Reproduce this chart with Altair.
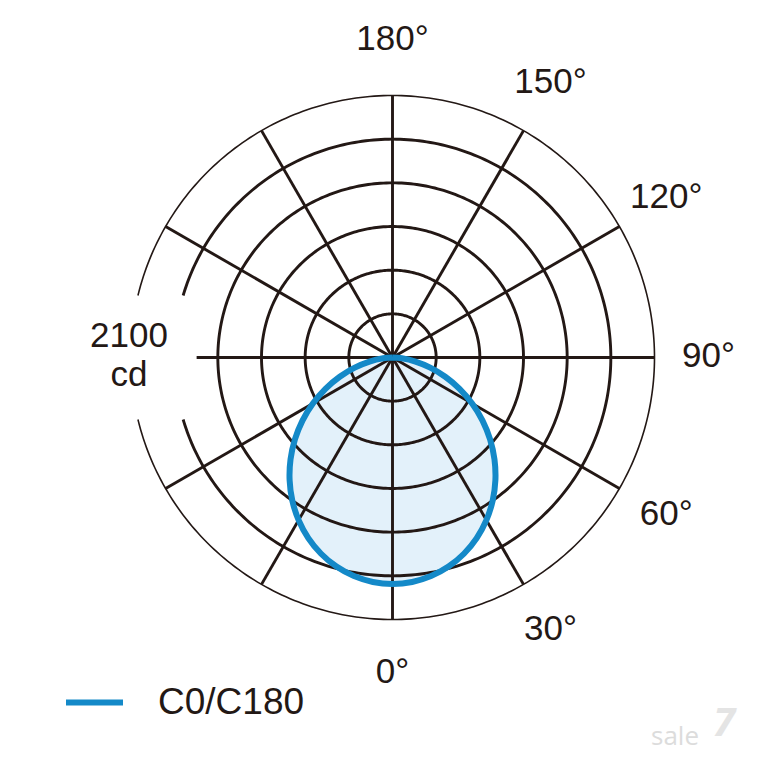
import altair as alt
import pandas as pd
import numpy as np

# ---- data -----------------------------------------------------------------
# luminous intensity (cd) of the C0/C180 plane, at 5 degree steps from nadir
gamma = [0, 5, 10, 15, 20, 25, 30, 35, 40, 45, 50, 55, 60, 65, 70, 75, 80, 85, 90]
intensity = [1815, 1806, 1779, 1735, 1674, 1597, 1505, 1400, 1283, 1156,
             1021, 881, 737, 593, 450, 313, 187, 76, 0]
series_name = "C0/C180"

ring_values = [350, 700, 1050, 1400, 1750, 2100]
ring_widths = [2.9, 2.9, 2.9, 2.9, 2.9, 1.6]
ring_has_gap = [False, False, False, False, True, True]

ray_angles = [0, 30, 60, 90, 120, 150, 180, 210, 240, 270, 300, 330]
ray_lengths = [2100, 2100, 2100, 2100, 2100, 2100, 2100, 2100, 2100, 1570, 2100, 2100]

label_angles = [0, 30, 60, 90, 120, 150, 180]
label_texts = ["0°", "30°", "60°", "90°", "120°", "150°", "180°"]
label_radius = 2533
scale_label = "2100\ncd"
scale_label_x = -2112
scale_label_y = 172
gap_half = 497  # cd, half height of the blank band behind the scale label

# ---- style / frame --------------------------------------------------------
DARK = "#231815"
BLUE = "#1489c8"
FILL = "#e3f1fa"
FONT = "Liberation Sans"
W = H = 745
CX, CY = 384.5, 349.5  # centre of the diagram inside the chart (px)
R_PX, RMAX = 262.0, 2100.0
k = R_PX / RMAX

xs = alt.Scale(domain=[-CX / k, (W - CX) / k], nice=False, zero=False)
ys = alt.Scale(domain=[-(H - CY) / k, CY / k], nice=False, zero=False)


def X(f):
    return alt.X(f, type="quantitative", scale=xs, axis=None)


def Y(f):
    return alt.Y(f, type="quantitative", scale=ys, axis=None)


# outline, from -90 to +90 (closed at the centre)
g_full = [-g for g in gamma[::-1][:-1]] + gamma
i_full = intensity[::-1][:-1] + intensity
gr = np.radians(g_full)
line_df = pd.DataFrame({
    "g": g_full,
    "x": np.array(i_full) * np.sin(gr),
    "y": -np.array(i_full) * np.cos(gr),
    "series": series_name,
})

# rings
rows = []
for r, w, gap in zip(ring_values, ring_widths, ring_has_gap):
    ts = np.arange(0, 361, 1.0)
    if gap:
        g0 = float(np.degrees(np.arcsin(gap_half / r)))
        ts = ts[(ts > g0) & (ts < 360 - g0)]
        ts = np.concatenate([[g0], ts, [360 - g0]])
    for t in ts:
        tr = np.radians(t)
        rows.append({"ring": r, "t": t, "w": w,
                     "x": -r * np.cos(tr), "y": r * np.sin(tr)})
ring_df = pd.DataFrame(rows)

# rays
ar = np.radians(ray_angles)
ray_df = pd.DataFrame({
    "x0": 0.0, "y0": 0.0,
    "x1": np.array(ray_lengths) * np.sin(ar),
    "y1": -np.array(ray_lengths) * np.cos(ar),
})

# angle labels
lr = np.radians(label_angles)
lab_df = pd.DataFrame({
    "label": label_texts,
    "x": label_radius * np.sin(lr),
    "y": -label_radius * np.cos(lr),
})

scale_df = pd.DataFrame({"label": [scale_label], "x": [scale_label_x], "y": [scale_label_y]})

wm_df = pd.DataFrame({"label": ["sale"], "x": [(675 - 392.5) / k], "y": [-(737 - 357.5) / k]})
wm7_df = pd.DataFrame({"label": ["7"], "x": [(724 - 392.5) / k], "y": [-(724 - 357.5) / k]})

fill = alt.Chart(line_df).mark_line(fill=FILL, strokeOpacity=0,
                                    interpolate="catmull-rom").encode(
    x=X("x"), y=Y("y"), order=alt.Order("g:Q"))

rings = alt.Chart(ring_df).mark_line(color=DARK).encode(
    x=X("x"), y=Y("y"), detail="ring:N", order=alt.Order("t:Q"),
    strokeWidth=alt.StrokeWidth("w:Q", scale=None))

rays = alt.Chart(ray_df).mark_rule(color=DARK, strokeWidth=2.9).encode(
    x=X("x0"), y=Y("y0"), x2="x1", y2="y1")

outline = alt.Chart(line_df).mark_line(strokeWidth=6, strokeJoin="round",
                                       interpolate="catmull-rom").encode(
    x=X("x"), y=Y("y"), order=alt.Order("g:Q"),
    color=alt.Color("series:N",
                    scale=alt.Scale(domain=[series_name], range=[BLUE]),
                    legend=alt.Legend(title=None, orient="none", legendX=55, legendY=663,
                                      symbolType="stroke", symbolSize=3249,
                                      symbolStrokeWidth=6, labelFontSize=37,
                                      labelFont=FONT, labelColor=DARK,
                                      labelOffset=32, padding=0)))

labels = alt.Chart(lab_df).mark_text(fontSize=35, font=FONT, color=DARK,
                                     align="center", baseline="middle", dy=-2).encode(
    x=X("x"), y=Y("y"), text="label:N")

scale_text = alt.Chart(scale_df).mark_text(fontSize=35, font=FONT, color=DARK,
                                           align="center", baseline="middle",
                                           lineBreak="\n", lineHeight=39).encode(
    x=X("x"), y=Y("y"), text="label:N")

wm = alt.Chart(wm_df).mark_text(fontSize=26, font="Open Sans", color="#dcdcdc",
                                align="center", baseline="middle").encode(
    x=X("x"), y=Y("y"), text="label:N")

wm7 = alt.Chart(wm7_df).mark_text(fontSize=40, font="Open Sans", color="#e4e4e4",
                                  fontWeight="bold", fontStyle="italic",
                                  align="center", baseline="middle").encode(
    x=X("x"), y=Y("y"), text="label:N")

chart = alt.layer(fill, rings, rays, outline, labels, scale_text, wm, wm7).properties(
    width=W, height=H, padding=0,
    autosize=alt.AutoSizeParams(type="none"),
).configure_view(stroke=None)

chart.save("out.html", embed_options={"renderer": "svg", "actions": False})
